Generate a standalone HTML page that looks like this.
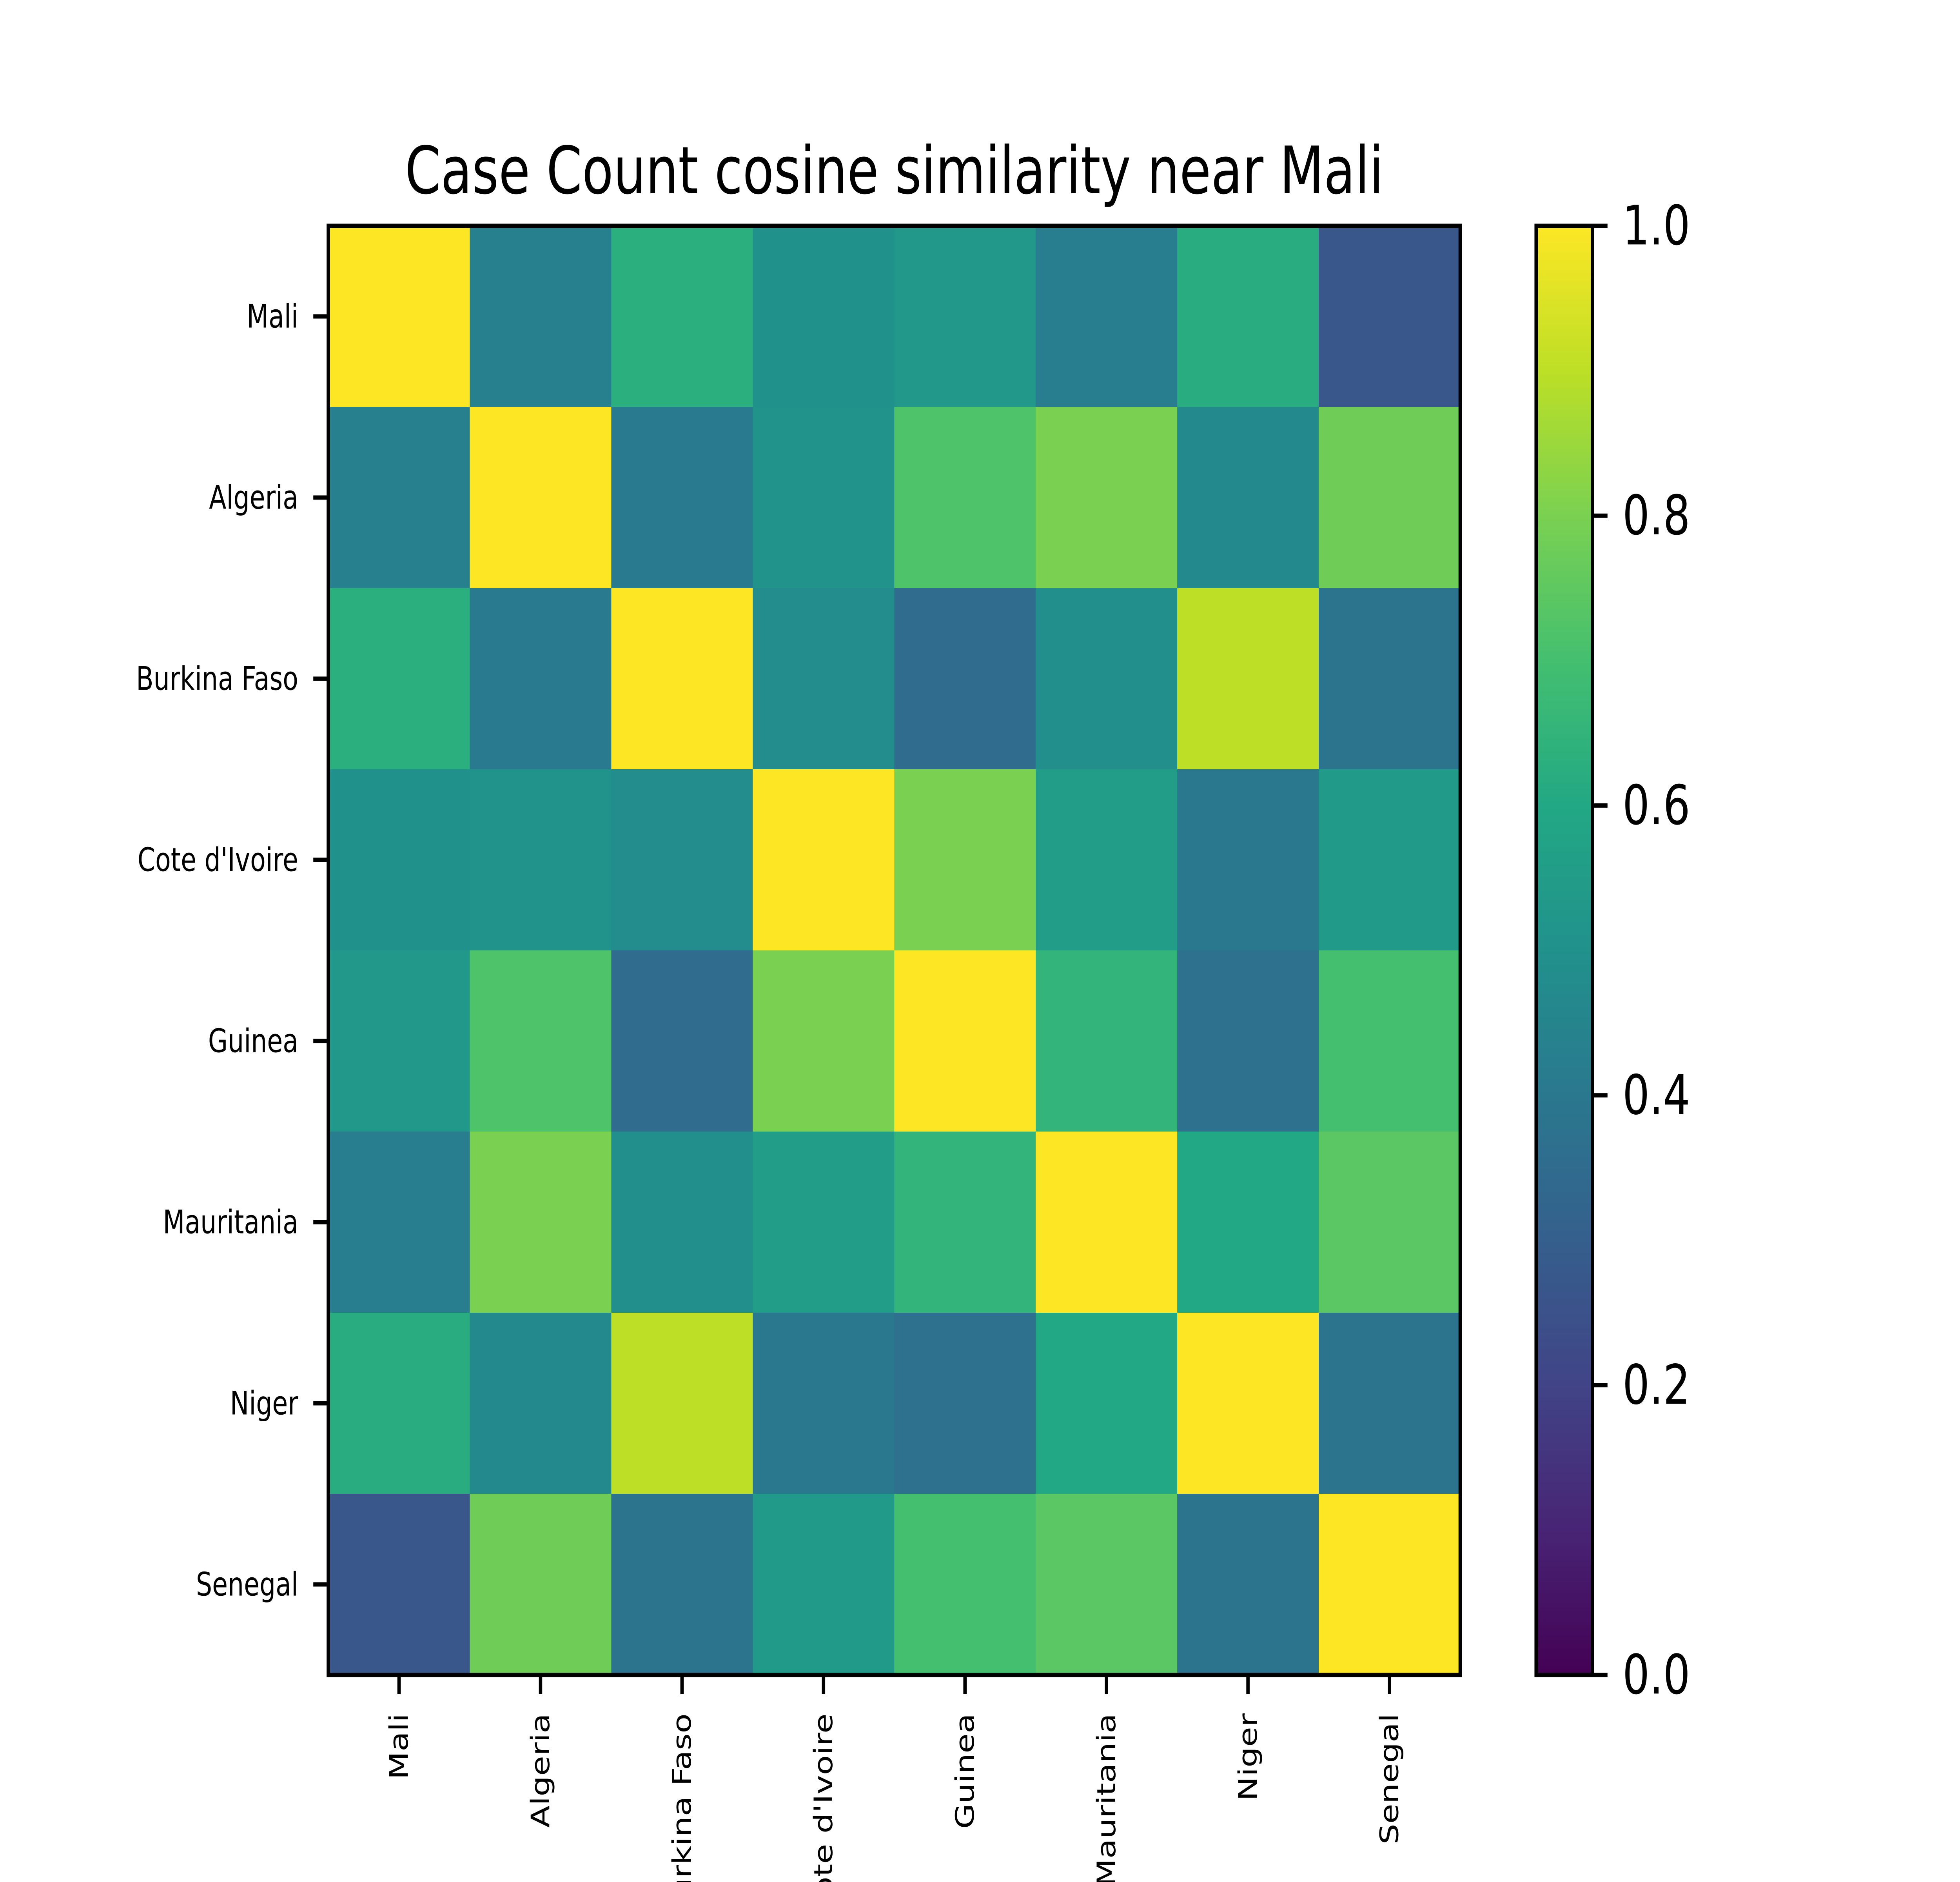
<!DOCTYPE html>
<html><head><meta charset="utf-8"><style>
html,body{margin:0;padding:0;background:#fff;width:100%;height:100%;overflow:hidden;}
svg{display:block;width:100vw;height:100vh;}
text{font-family:"DejaVu Sans","Liberation Sans",sans-serif;fill:#000;}
</style></head><body>
<svg id="chart" viewBox="0 0 6400 4800" preserveAspectRatio="none" xmlns="http://www.w3.org/2000/svg">
<rect width="6400" height="4800" fill="#fff"/>
<text x="2920" y="493" font-size="167" text-anchor="middle">Case Count cosine similarity near Mali</text>
<g id="cells"></g>
<g id="ticks"></g>
<rect x="1072" y="576" width="3696" height="3696" fill="none" stroke="#000" stroke-width="11"/>
<defs><linearGradient id="vir" x1="0" y1="1" x2="0" y2="0"></linearGradient></defs>
<rect x="5016" y="576" width="184" height="3696" fill="url(#vir)"/>
<rect x="5016" y="576" width="184" height="3696" fill="none" stroke="#000" stroke-width="11"/>
<g id="cbticks"></g>
</svg>
<script>
const countries = ["Mali","Algeria","Burkina Faso","Cote d'Ivoire","Guinea","Mauritania","Niger","Senegal"];
const rowMali       = [1.00,0.43,0.63,0.50,0.53,0.42,0.62,0.27];
const rowAlgeria    = [0.43,1.00,0.41,0.51,0.72,0.80,0.47,0.78];
const rowBurkina    = [0.63,0.41,1.00,0.48,0.35,0.49,0.90,0.38];
const rowCote       = [0.50,0.51,0.48,1.00,0.80,0.55,0.40,0.54];
const rowGuinea     = [0.53,0.72,0.35,0.80,1.00,0.65,0.37,0.70];
const rowMauritania = [0.42,0.80,0.49,0.55,0.65,1.00,0.60,0.74];
const rowNiger      = [0.62,0.47,0.90,0.40,0.37,0.60,1.00,0.38];
const rowSenegal    = [0.27,0.78,0.38,0.54,0.70,0.74,0.38,1.00];
const matrix = [rowMali,rowAlgeria,rowBurkina,rowCote,rowGuinea,rowMauritania,rowNiger,rowSenegal];
const cbTicks = [0.0,0.2,0.4,0.6,0.8,1.0];
const cbTickLabels = ["0.0","0.2","0.4","0.6","0.8","1.0"];

const NS = "http://www.w3.org/2000/svg";
const viridis = ["#440154","#482475","#414487","#355f8d","#2a788e","#21918c","#22a884","#44bf70","#7ad151","#bddf26","#fde725"];
function hex(c){return [1,3,5].map(i=>parseInt(c.substr(i,2),16));}
function cmap(v){
  v=Math.max(0,Math.min(1,v));const p=v*10;const i=Math.min(9,Math.floor(p));const t=p-i;
  const a=hex(viridis[i]),b=hex(viridis[i+1]);
  return "rgb("+a.map((x,k)=>Math.round(x+(b[k]-x)*t)).join(",")+")";
}
const L=1072,T=576,S=3696,n=countries.length,cw=S/n;
const xPos=i=>L+i*cw, yPos=i=>T+i*cw;
const cbY=v=>4272-v*S;
function mk(tag,attrs,parent){const e=document.createElementNS(NS,tag);for(const k in attrs)e.setAttribute(k,attrs[k]);parent.appendChild(e);return e;}

const cells=document.getElementById("cells");
matrix.forEach((row,r)=>row.forEach((v,c)=>{
  const e=mk("rect",{x:xPos(c),y:yPos(r),width:cw+1,height:cw+1,fill:cmap(v)},cells);
  
  
}));

const ticks=document.getElementById("ticks");
countries.forEach((name,i)=>{
  const cx=xPos(i)+cw/2, cy=yPos(i)+cw/2;
  const t1=mk("line",{x1:L-49,x2:L,y1:cy,y2:cy,stroke:"#000","stroke-width":11},ticks);
  
  
  const l1=mk("text",{x:L-98,y:cy,"font-size":83,"text-anchor":"end","dominant-baseline":"central"},ticks);
  l1.textContent=name;
  
  
  const t2=mk("line",{x1:cx,x2:cx,y1:4272,y2:4321,stroke:"#000","stroke-width":11},ticks);
  
  
  const l2=mk("text",{x:0,y:0,"font-size":83,"text-anchor":"end","dominant-baseline":"central",transform:"translate("+cx+",4370) rotate(-90)"},ticks);
  l2.textContent=name;
  
  
});

const grad=document.getElementById("vir");
viridis.forEach((c,i)=>mk("stop",{offset:(i*10)+"%","stop-color":c},grad));
const cbt=document.getElementById("cbticks");
cbTicks.forEach((v,i)=>{
  const y=cbY(v);
  const t=mk("line",{x1:5200,x2:5249,y1:y,y2:y,stroke:"#000","stroke-width":11},cbt);
  
  
  const l=mk("text",{x:5298,y:y,"font-size":139,"dominant-baseline":"central"},cbt);
  l.textContent=cbTickLabels[i];
  
  
});
</script>
</body></html>
